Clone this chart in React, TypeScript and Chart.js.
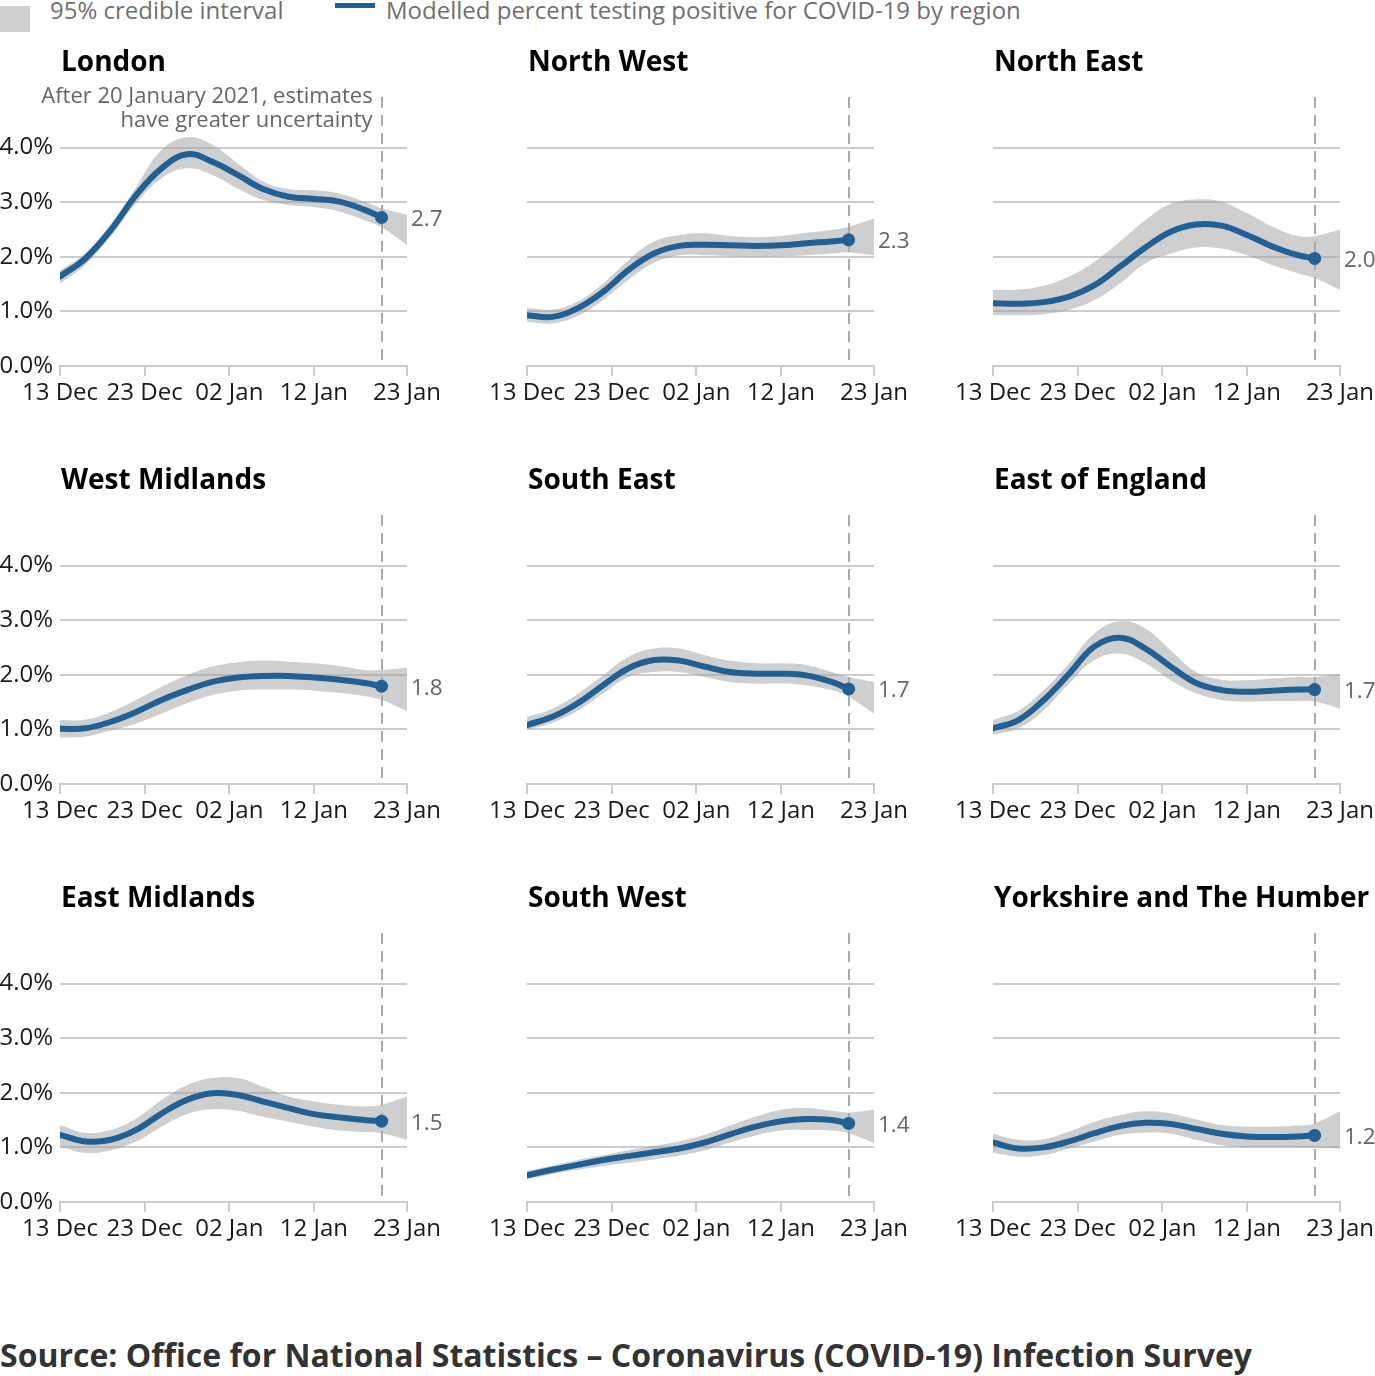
import React, { useEffect, useRef } from 'react';
import { Chart, registerables } from 'chart.js';

Chart.register(...registerables);

// Days since 13 Dec 2020
const DAYS = [0, 3, 6, 9, 12, 15, 18, 21, 24, 27, 30, 33, 36, 38, 41];
const TICK_DAYS = [0, 10, 20, 30, 41];
const TICK_LABELS = ['13 Dec', '23 Dec', '02 Jan', '12 Jan', '23 Jan'];
const Y_TICKS = [0, 1, 2, 3, 4];
const CUTOFF_DAY = 38;

const REGIONS = [
  'London', 'North West', 'North East',
  'West Midlands', 'South East', 'East of England',
  'East Midlands', 'South West', 'Yorkshire and The Humber',
];

// Modelled estimate (to 20 Jan), upper and lower 95% credible interval (to 23 Jan)
const LONDON_EST = [1.64, 1.97, 2.49, 3.13, 3.62, 3.88, 3.74, 3.50, 3.24, 3.10, 3.06, 3.01, 2.86, 2.72];
const LONDON_UP = [1.75, 2.07, 2.60, 3.28, 3.96, 4.19, 4.05, 3.71, 3.38, 3.24, 3.22, 3.16, 3.01, 2.89, 2.77];
const LONDON_LO = [1.51, 1.85, 2.38, 2.98, 3.44, 3.62, 3.50, 3.25, 3.04, 2.95, 2.91, 2.83, 2.67, 2.54, 2.22];

const NW_EST = [0.93, 0.90, 1.06, 1.36, 1.76, 2.06, 2.20, 2.22, 2.21, 2.20, 2.21, 2.25, 2.28, 2.31];
const NW_UP = [1.06, 1.03, 1.18, 1.51, 1.94, 2.28, 2.40, 2.43, 2.38, 2.36, 2.38, 2.44, 2.49, 2.55, 2.70];
const NW_LO = [0.81, 0.78, 0.92, 1.21, 1.58, 1.89, 2.03, 2.03, 2.01, 2.00, 2.01, 2.03, 2.06, 2.08, 2.03];

const NE_EST = [1.15, 1.14, 1.17, 1.27, 1.48, 1.82, 2.17, 2.46, 2.59, 2.57, 2.40, 2.19, 2.03, 1.97];
const NE_UP = [1.39, 1.40, 1.47, 1.64, 1.91, 2.28, 2.67, 2.97, 3.05, 3.01, 2.80, 2.55, 2.38, 2.38, 2.50];
const NE_LO = [0.93, 0.93, 0.95, 1.03, 1.21, 1.51, 1.88, 2.06, 2.17, 2.15, 2.03, 1.85, 1.70, 1.61, 1.39];

const WM_EST = [1.01, 1.02, 1.14, 1.32, 1.54, 1.72, 1.87, 1.95, 1.98, 1.98, 1.95, 1.91, 1.85, 1.79];
const WM_UP = [1.17, 1.18, 1.32, 1.54, 1.78, 1.99, 2.15, 2.23, 2.26, 2.24, 2.21, 2.16, 2.09, 2.09, 2.13];
const WM_LO = [0.85, 0.87, 0.98, 1.11, 1.29, 1.48, 1.63, 1.71, 1.73, 1.73, 1.71, 1.67, 1.61, 1.54, 1.34];

const SE_EST = [1.08, 1.23, 1.48, 1.81, 2.12, 2.27, 2.26, 2.15, 2.05, 2.02, 2.02, 1.99, 1.87, 1.74];
const SE_UP = [1.23, 1.38, 1.65, 1.99, 2.33, 2.48, 2.48, 2.36, 2.26, 2.21, 2.21, 2.18, 2.05, 1.96, 1.87];
const SE_LO = [0.99, 1.12, 1.34, 1.66, 1.96, 2.05, 2.05, 1.96, 1.87, 1.84, 1.84, 1.81, 1.72, 1.60, 1.29];

const EOE_EST = [1.02, 1.17, 1.54, 2.02, 2.52, 2.68, 2.48, 2.15, 1.85, 1.72, 1.69, 1.71, 1.73, 1.73];
const EOE_UP = [1.17, 1.34, 1.72, 2.21, 2.76, 2.98, 2.85, 2.45, 2.05, 1.91, 1.90, 1.93, 1.96, 1.96, 2.02];
const EOE_LO = [0.90, 1.02, 1.35, 1.84, 2.27, 2.39, 2.21, 1.90, 1.66, 1.54, 1.51, 1.52, 1.52, 1.51, 1.38];

const EM_EST = [1.23, 1.11, 1.14, 1.32, 1.62, 1.87, 1.99, 1.96, 1.84, 1.72, 1.61, 1.55, 1.50, 1.48];
const EM_UP = [1.41, 1.27, 1.32, 1.53, 1.87, 2.14, 2.27, 2.27, 2.11, 1.93, 1.84, 1.78, 1.75, 1.78, 1.93];
const EM_LO = [1.01, 0.90, 0.95, 1.11, 1.38, 1.61, 1.70, 1.67, 1.56, 1.47, 1.38, 1.31, 1.28, 1.26, 1.14];

const SW_EST = [0.49, 0.59, 0.68, 0.77, 0.84, 0.91, 0.98, 1.09, 1.24, 1.38, 1.48, 1.52, 1.50, 1.44];
const SW_UP = [0.57, 0.67, 0.77, 0.86, 0.95, 1.03, 1.11, 1.23, 1.40, 1.56, 1.69, 1.72, 1.67, 1.64, 1.69];
const SW_LO = [0.42, 0.51, 0.59, 0.66, 0.72, 0.78, 0.85, 0.95, 1.09, 1.22, 1.31, 1.32, 1.31, 1.26, 1.08];

const YH_EST = [1.09, 0.98, 1.00, 1.11, 1.26, 1.39, 1.45, 1.43, 1.34, 1.25, 1.20, 1.19, 1.20, 1.22];
const YH_UP = [1.25, 1.14, 1.15, 1.29, 1.47, 1.59, 1.66, 1.62, 1.51, 1.41, 1.38, 1.38, 1.40, 1.44, 1.66];
const YH_LO = [0.90, 0.83, 0.86, 0.98, 1.11, 1.23, 1.27, 1.25, 1.14, 1.04, 1.00, 1.00, 1.00, 1.00, 0.98];

const EST = [LONDON_EST, NW_EST, NE_EST, WM_EST, SE_EST, EOE_EST, EM_EST, SW_EST, YH_EST];
const UP = [LONDON_UP, NW_UP, NE_UP, WM_UP, SE_UP, EOE_UP, EM_UP, SW_UP, YH_UP];
const LO = [LONDON_LO, NW_LO, NE_LO, WM_LO, SE_LO, EOE_LO, EM_LO, SW_LO, YH_LO];

const ANNOTATION = ['After 20 January 2021, estimates', 'have greater uncertainty'];
const LEGEND_BAND = '95% credible interval';
const LEGEND_LINE = 'Modelled percent testing positive for COVID-19 by region';
const SOURCE = 'Source: Office for National Statistics \u2013 Coronavirus (COVID-19) Infection Survey';

const FONT = "'Open Sans', sans-serif";
const BLUE = '#206095';
const BAND = 'rgba(160,160,160,0.5)';
const GRID = '#cccccc';

const CANVAS_W = 450;
const CANVAS_H = 380;
const COL_X = [0, 467, 933];
const ROW_Y0 = 40;
const ROW_STEP = 418;

const decorPlugin = {
  id: 'panelDecor',
  afterDatasetDraw(chart: any, args: any) {
    if (args.index !== 1) return;
    const { ctx, chartArea, scales } = chart;
    const x = Math.round(scales.x.getPixelForValue(CUTOFF_DAY));
    ctx.save();
    ctx.strokeStyle = '#aaaaaa';
    ctx.lineWidth = 2;
    ctx.setLineDash([11, 7]);
    ctx.beginPath();
    ctx.moveTo(x, chartArea.top + 4);
    ctx.lineTo(x, chartArea.bottom);
    ctx.stroke();
    ctx.restore();
  },
  afterDraw(chart: any, _args: any, opts: any) {
    const { ctx, chartArea, scales } = chart;
    ctx.save();
    // title
    ctx.fillStyle = '#000';
    ctx.font = `bold 28px ${FONT}`;
    ctx.textAlign = 'left';
    ctx.textBaseline = 'alphabetic';
    ctx.fillText(opts.title, chartArea.left + 1, 31);
    // end label
    const est: number[] = opts.est;
    const last = est[est.length - 1];
    ctx.fillStyle = '#666';
    ctx.font = `22.5px ${FONT}`;
    ctx.textBaseline = 'middle';
    ctx.fillText(last.toFixed(1), chartArea.right + 4, scales.y.getPixelForValue(last) + 2);
    // annotation
    if (opts.annotate) {
      const x = scales.x.getPixelForValue(CUTOFF_DAY) - 9;
      ctx.font = `22px ${FONT}`;
      ctx.textAlign = 'right';
      ctx.textBaseline = 'alphabetic';
      ctx.fillText(ANNOTATION[0], x, 63);
      ctx.fillText(ANNOTATION[1], x, 87);
    }
    ctx.restore();
  },
};

function Panel({ idx }: { idx: number }) {
  const ref = useRef<HTMLCanvasElement>(null);
  const col = idx % 3;
  const row = Math.floor(idx / 3);
  useEffect(() => {
    if (!ref.current) return;
    const est = EST[idx];
    const up = UP[idx];
    const lo = LO[idx];
    const toPts = (arr: number[]) => arr.map((v, i) => ({ x: DAYS[i], y: v }));
    const chart = new Chart(ref.current, {
      type: 'line',
      data: {
        datasets: [
          {
            label: 'est',
            data: toPts(est),
            borderColor: BLUE,
            borderWidth: 6,
            tension: 0.4,
            pointRadius: (c: any) => (c.dataIndex === est.length - 1 ? 6.5 : 0),
            pointBackgroundColor: BLUE,
            pointBorderWidth: 0,
            pointHoverRadius: 0,
            fill: false,
            order: 0,
            borderCapStyle: 'round',
          },
          {
            label: 'upper',
            data: toPts(up),
            borderWidth: 0,
            borderColor: 'transparent',
            backgroundColor: BAND,
            pointRadius: 0,
            fill: '+1',
            tension: 0.4,
            order: 1,
          },
          {
            label: 'lower',
            data: toPts(lo),
            borderWidth: 0,
            borderColor: 'transparent',
            pointRadius: 0,
            fill: false,
            tension: 0.4,
            order: 2,
          },
        ] as any,
      },
      options: {
        animation: false,
        responsive: false,
        events: [],
        layout: { padding: { top: 53, left: 0, right: CANVAS_W - 407, bottom: 0 } },
        plugins: {
          legend: { display: false },
          tooltip: { enabled: false },
          panelDecor: { title: REGIONS[idx], est, annotate: idx === 0 },
        } as any,
        scales: {
          x: {
            type: 'linear',
            min: 0,
            max: 41,
            afterBuildTicks: (s: any) => {
              s.ticks = TICK_DAYS.map((v) => ({ value: v }));
            },
            afterFit: (s: any) => {
              s.height = 54;
            },
            ticks: {
              autoSkip: false,
              maxRotation: 0,
              padding: 3,
              color: '#1a1a1a',
              font: { family: FONT, size: 24 },
              callback: (v: any) => TICK_LABELS[TICK_DAYS.indexOf(Number(v))],
            },
            grid: {
              display: true,
              drawOnChartArea: false,
              drawTicks: true,
              tickLength: 10,
              color: GRID,
              lineWidth: 2,
            },
            border: { display: true, color: GRID, width: 2 },
          },
          y: {
            type: 'linear',
            min: 0,
            max: 5,
            afterBuildTicks: (s: any) => {
              s.ticks = Y_TICKS.map((v) => ({ value: v }));
            },
            afterFit: (s: any) => {
              s.width = 60;
            },
            ticks: {
              display: col === 0,
              padding: 7,
              color: '#1a1a1a',
              font: { family: FONT, size: 24 },
              callback: (v: any) => Number(v).toFixed(1) + '%',
            },
            grid: { drawTicks: false, color: GRID, lineWidth: 2 },
            border: { display: false },
          },
        },
      } as any,
      plugins: [decorPlugin],
    });
    return () => chart.destroy();
  }, [idx]);
  return (
    <canvas
      ref={ref}
      width={CANVAS_W}
      height={CANVAS_H}
      style={{
        position: 'absolute',
        left: COL_X[col],
        top: ROW_Y0 + row * ROW_STEP,
        width: CANVAS_W,
        height: CANVAS_H,
      }}
    />
  );
}

export default function App() {
  return (
    <div
      style={{
        position: 'absolute',
        left: 0,
        top: 0,
        width: 1375,
        height: 1376,
        overflow: 'hidden',
        background: '#fff',
        fontFamily: FONT,
      }}
    >
      <div style={{ position: 'absolute', left: 0, top: 6, width: 30, height: 26, background: '#cfcfcf' }} />
      <div
        style={{
          position: 'absolute',
          left: 50,
          top: -2,
          fontSize: 24,
          lineHeight: '24px',
          color: '#707070',
          whiteSpace: 'nowrap',
        }}
      >
        {LEGEND_BAND}
      </div>
      <div style={{ position: 'absolute', left: 335, top: 3, width: 40, height: 5, background: BLUE }} />
      <div
        style={{
          position: 'absolute',
          left: 386,
          top: -2,
          fontSize: 24,
          lineHeight: '24px',
          color: '#707070',
          whiteSpace: 'nowrap',
        }}
      >
        {LEGEND_LINE}
      </div>
      {REGIONS.map((_, i) => (
        <Panel key={i} idx={i} />
      ))}
      <div
        style={{
          position: 'absolute',
          left: 0,
          top: 1336,
          fontSize: 32,
          lineHeight: '38px',
          fontWeight: 'bold',
          color: '#333',
          whiteSpace: 'nowrap',
        }}
      >
        {SOURCE}
      </div>
    </div>
  );
}
